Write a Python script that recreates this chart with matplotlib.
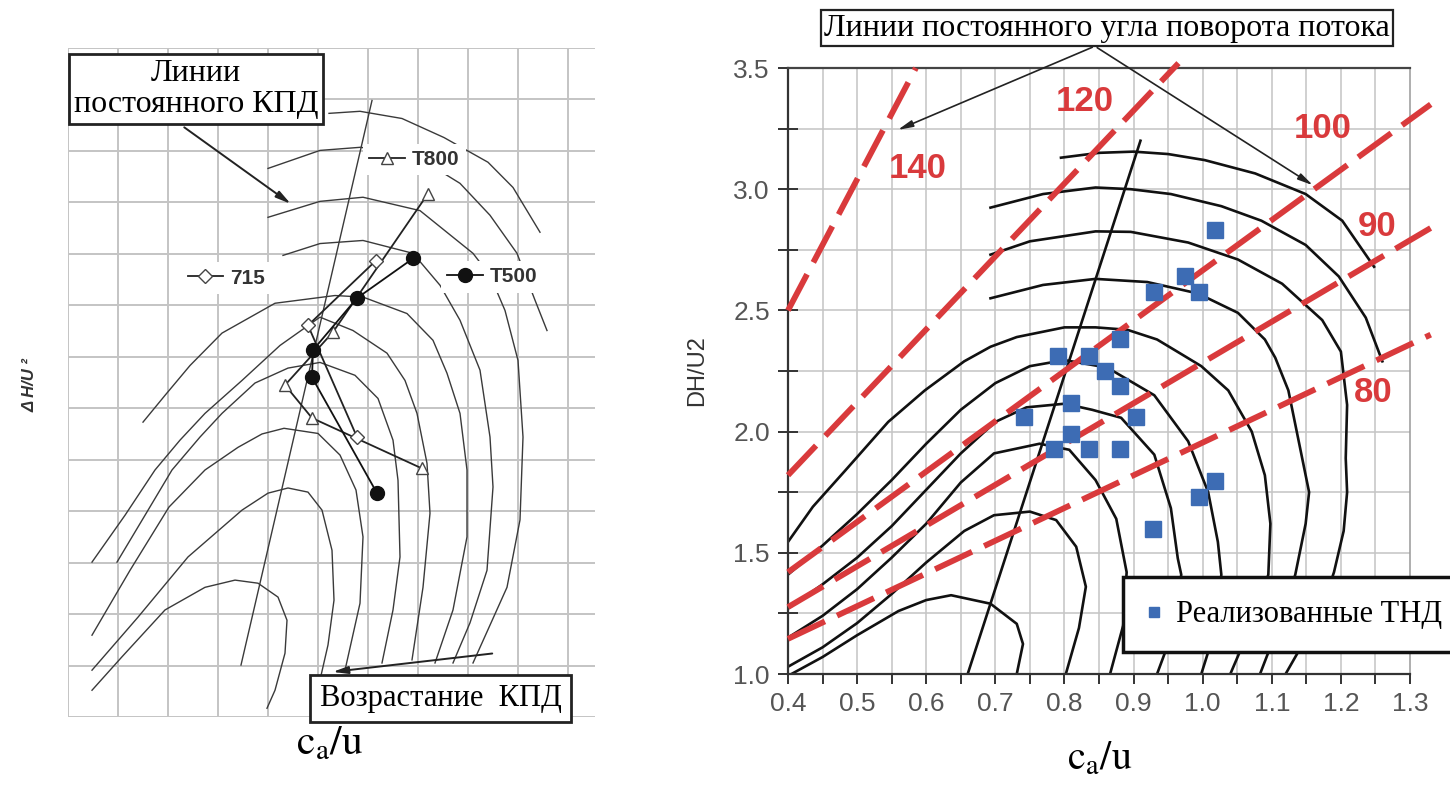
import matplotlib
matplotlib.use("Agg")
import matplotlib.pyplot as plt
from matplotlib.lines import Line2D
import numpy as np

plt.rcParams['mathtext.fontset'] = 'stix'
SERIF = 'Liberation Serif'
SANS = 'Liberation Sans'

# ===================== LEFT PANEL DATA (grid-cell units) =====================
left_curves = [
    # innermost -> outermost (x list, y list)
    ([0.48, 1.08, 1.94, 2.74, 3.34, 3.80, 4.20, 4.38, 4.34, 4.14, 3.98],
     [0.52, 1.17, 2.08, 2.52, 2.66, 2.60, 2.33, 1.88, 1.24, 0.52, 0.17]),
    ([0.48, 1.40, 2.40, 3.48, 4.00, 4.40, 4.80, 5.08, 5.28, 5.32, 5.20, 5.04],
     [0.91, 1.94, 3.11, 4.02, 4.35, 4.45, 4.37, 4.02, 3.24, 2.27, 1.40, 0.72]),
    ([0.48, 1.24, 2.02, 2.74, 3.40, 3.88, 4.32, 5.00, 5.44, 5.76, 5.90, 5.84, 5.54],
     [1.59, 2.85, 4.08, 4.80, 5.24, 5.50, 5.61, 5.51, 5.09, 4.41, 3.50, 2.21, 0.91]),
    ([0.98, 1.54, 2.08, 2.64, 3.08, 3.74, 4.40, 5.04, 5.74, 6.20, 6.50, 6.60, 6.64, 6.50, 6.28],
     [3.01, 3.92, 4.80, 5.44, 5.90, 6.49, 6.78, 6.89, 6.64, 6.19, 5.38, 4.60, 3.11, 2.08, 1.05]),
    ([0.48, 1.14, 1.74, 2.24, 2.74, 3.48, 4.24, 5.04, 5.70, 6.38, 6.74, 6.98, 7.18, 7.24, 7.10, 6.88],
     [3.01, 3.92, 4.80, 5.38, 5.90, 6.54, 7.22, 7.77, 7.51, 7.07, 6.54, 5.90, 4.93, 3.96, 2.52, 1.11]),
    ([1.50, 1.94, 2.44, 3.08, 4.14, 5.34, 5.90, 6.78, 7.30, 7.58, 7.84, 7.98, 7.98, 7.70, 7.34],
     [5.73, 6.25, 6.83, 7.46, 8.04, 8.19, 8.16, 7.84, 7.32, 6.68, 5.90, 4.80, 3.50, 2.08, 1.05]),
    ([4.30, 5.04, 5.90, 6.90, 7.44, 7.84, 8.24, 8.44, 8.50, 8.38, 8.04, 7.70],
     [8.97, 9.20, 9.26, 9.01, 8.39, 7.71, 6.74, 5.44, 4.47, 2.85, 1.83, 1.05]),
    ([4.00, 5.04, 5.90, 7.04, 8.10, 8.44, 8.74, 9.00, 9.10, 9.04, 8.78, 8.10],
     [9.71, 10.02, 10.10, 9.84, 9.01, 8.58, 7.90, 6.93, 5.44, 3.83, 2.52, 1.05]),
    ([4.00, 5.04, 5.84, 6.84, 7.84, 8.44, 8.98, 9.34, 9.58],
     [10.66, 11.01, 11.07, 10.97, 10.37, 9.75, 9.01, 8.10, 7.51]),
    ([5.22, 5.84, 6.68, 7.52, 8.40, 8.90, 9.44],
     [11.73, 11.77, 11.63, 11.26, 10.78, 10.29, 9.42]),
]
left_opt_x = [6.08, 3.46]
left_opt_y = [11.98, 1.01]

t500_x = [6.90, 5.78, 4.90, 4.88, 6.18]
t500_y = [8.91, 8.14, 7.13, 6.60, 4.35]
t800_x = [7.20, 5.30, 4.34, 4.88, 7.08]
t800_y = [10.17, 7.48, 6.45, 5.81, 4.83]
s715_x = [6.16, 4.80, 5.78]
s715_y = [8.87, 7.61, 5.44]

# ===================== RIGHT PANEL DATA =====================
angle_labels = ['140', '120', '100', '90', '80']
angle_x0 = [0.40, 0.40, 0.40, 0.40, 0.40]
angle_y0 = [2.50, 1.82, 1.42, 1.276, 1.145]
angle_x1 = [0.585, 0.965, 1.33, 1.33, 1.33]
angle_y1 = [3.50, 3.52, 3.35, 2.84, 2.40]
angle_lab_x = [0.588, 0.830, 1.173, 1.252, 1.247]
angle_lab_y = [3.087, 3.360, 3.250, 2.845, 2.160]

eff_curves = [
    ([0.795, 0.85, 0.90, 0.95, 1.003, 1.076, 1.149, 1.202, 1.248],
     [3.13, 3.15, 3.155, 3.145, 3.12, 3.065, 2.98, 2.87, 2.68]),
    ([0.693, 0.769, 0.845, 0.896, 0.954, 1.027, 1.085, 1.149, 1.197, 1.236, 1.26],
     [2.924, 2.98, 3.007, 3.00, 2.98, 2.93, 2.87, 2.77, 2.64, 2.47, 2.29]),
    ([0.693, 0.75, 0.845, 0.896, 0.979, 1.051, 1.115, 1.173, 1.20, 1.209, 1.207, 1.209, 1.204, 1.19, 1.17, 1.14, 1.12],
     [2.73, 2.785, 2.826, 2.824, 2.78, 2.71, 2.61, 2.46, 2.33, 2.11, 1.89, 1.75, 1.59, 1.42, 1.25, 1.10, 1.00]),
    ([0.693, 0.769, 0.845, 0.92, 0.993, 1.051, 1.09, 1.105, 1.124, 1.139, 1.154, 1.149, 1.134, 1.11, 1.083],
     [2.55, 2.605, 2.63, 2.617, 2.57, 2.49, 2.38, 2.305, 2.17, 1.96, 1.75, 1.62, 1.41, 1.20, 1.00]),
    ([0.40, 0.436, 0.483, 0.545, 0.598, 0.655, 0.693, 0.731, 0.80, 0.845, 0.891, 0.934, 0.969, 0.998, 1.037, 1.071, 1.09, 1.098, 1.095, 1.07, 1.04],
     [1.545, 1.69, 1.84, 2.04, 2.17, 2.29, 2.35, 2.39, 2.43, 2.43, 2.42, 2.38, 2.32, 2.27, 2.17, 2.00, 1.82, 1.62, 1.41, 1.20, 1.00]),
    ([0.40, 0.45, 0.50, 0.55, 0.60, 0.65, 0.70, 0.75, 0.80, 0.862, 0.93, 0.979, 1.008, 1.022, 1.027, 1.02, 0.998],
     [1.41, 1.53, 1.66, 1.80, 1.95, 2.09, 2.20, 2.27, 2.295, 2.264, 2.15, 1.96, 1.75, 1.545, 1.41, 1.20, 1.00]),
    ([0.40, 0.45, 0.50, 0.55, 0.60, 0.65, 0.70, 0.745, 0.80, 0.84, 0.882, 0.93, 0.954, 0.964, 0.969, 0.96, 0.934],
     [1.27, 1.37, 1.48, 1.61, 1.76, 1.91, 2.04, 2.10, 2.115, 2.09, 2.057, 1.905, 1.684, 1.477, 1.41, 1.20, 1.00]),
    ([0.40, 0.45, 0.50, 0.55, 0.60, 0.65, 0.698, 0.764, 0.807, 0.845, 0.875, 0.89, 0.885, 0.866],
     [1.15, 1.24, 1.35, 1.48, 1.62, 1.79, 1.91, 1.95, 1.925, 1.80, 1.64, 1.42, 1.20, 1.00]),
    ([0.40, 0.45, 0.50, 0.55, 0.60, 0.655, 0.698, 0.75, 0.788, 0.817, 0.831, 0.821, 0.802],
     [1.03, 1.11, 1.21, 1.33, 1.46, 1.59, 1.655, 1.67, 1.635, 1.525, 1.36, 1.19, 1.00]),
    ([0.405, 0.45, 0.50, 0.56, 0.60, 0.636, 0.693, 0.731, 0.74, 0.731],
     [1.00, 1.07, 1.16, 1.26, 1.305, 1.325, 1.29, 1.207, 1.124, 1.00]),
]
opt_line_x = [0.66, 0.91]
opt_line_y = [1.00, 3.20]

thd_x = [1.018, 0.975, 0.930, 0.995, 0.880, 0.790, 0.835, 0.858, 0.880, 0.742,
         0.810, 0.903, 0.810, 0.785, 0.835, 0.880, 0.995, 1.018, 0.928]
thd_y = [2.83, 2.64, 2.575, 2.575, 2.38, 2.31, 2.31, 2.25, 2.19, 2.06,
         2.12, 2.06, 1.99, 1.93, 1.93, 1.93, 1.73, 1.795, 1.60]

x_major = [0.4, 0.5, 0.6, 0.7, 0.8, 0.9, 1.0, 1.1, 1.2, 1.3]
x_labels = ['0.4', '0.5', '0.6', '0.7', '0.8', '0.9', '1.0', '1.1', '1.2', '1.3']
y_major = [1.0, 1.5, 2.0, 2.5, 3.0, 3.5]
y_labels = ['1.0', '1.5', '2.0', '2.5', '3.0', '3.5']

RED = '#d93a3c'
BLUE = '#3d6cb4'
GRID = '#c4c4c4'

fig = plt.figure(figsize=(14.5, 7.85), dpi=100)
fig.patch.set_facecolor('white')

# ===================== LEFT PANEL =====================
axL = fig.add_axes([68/1450, 68/785, 527/1450, 669/785])
axL.set_xlim(0, 10.54)
axL.set_ylim(0, 13)
for s in axL.spines.values():
    s.set_visible(False)
axL.set_xticks([]); axL.set_yticks([])
for gx in range(0, 11):
    axL.axvline(gx, color=GRID, lw=1.4, zorder=0)
for gy in range(0, 14):
    axL.axhline(gy, color=GRID, lw=1.4, zorder=0)

for cx, cy in left_curves:
    axL.plot(cx, cy, color='#3a3a3a', lw=1.0, zorder=2)
axL.plot(left_opt_x, left_opt_y, color='#3a3a3a', lw=1.0, zorder=2)

axL.plot(t800_x, t800_y, color='#222', lw=1.3, marker='^', ms=9, mfc='white',
         mec='#444', mew=1.0, zorder=4)
axL.plot(s715_x, s715_y, color='#222', lw=1.3, marker='D', ms=7, mfc='white',
         mec='#444', mew=1.0, zorder=4)
axL.plot(t500_x, t500_y, color='#111', lw=1.3, marker='o', ms=10, mfc='#111',
         mec='#111', zorder=5)

def mini_legend(ax, handle, label, anchor):
    lg = ax.legend([handle], [label], loc='center left', bbox_to_anchor=anchor,
                   frameon=True, fancybox=False, edgecolor='none', facecolor='white',
                   framealpha=1, borderpad=0.3, borderaxespad=0, handlelength=1.7,
                   handletextpad=0.35,
                   prop={'family': SANS, 'weight': 'bold', 'size': 15})
    lg.set_zorder(6)
    for t in lg.get_texts():
        t.set_color('#333')
    ax.add_artist(lg)

mini_legend(axL, Line2D([], [], color='#222', lw=1.3, marker='^', ms=9, mfc='white', mec='#444'),
            'T800', (0.56, 0.833))
mini_legend(axL, Line2D([], [], color='#222', lw=1.3, marker='D', ms=7, mfc='white', mec='#444'),
            '715', (0.215, 0.656))
mini_legend(axL, Line2D([], [], color='#111', lw=1.3, marker='o', ms=10, mfc='#111', mec='#111'),
            'T500', (0.708, 0.658))

axL.text(2.56, 12.21, 'Линии\nпостоянного КПД', ha='center', va='center',
         family=SERIF, fontsize=23, linespacing=1.1, zorder=7,
         bbox=dict(boxstyle='square,pad=0.15', fc='white', ec='#222', lw=2))
axL.annotate('', xy=(4.5, 9.94), xytext=(2.28, 11.49),
             arrowprops=dict(arrowstyle='-|>,head_length=0.9,head_width=0.22',
                             color='#222', lw=1.4), zorder=7)

axL.text(7.45, 0.36, 'Возрастание  КПД', ha='center', va='center',
         family=SERIF, fontsize=22, zorder=7,
         bbox=dict(boxstyle='square,pad=0.3', fc='white', ec='#222', lw=2))
axL.annotate('', xy=(5.24, 0.87), xytext=(8.54, 1.24),
             arrowprops=dict(arrowstyle='-|>,head_length=0.9,head_width=0.22',
                             color='#222', lw=1.4), zorder=7)

fig.text(330/1450, 1 - 742/785, r'$\mathrm{c_a/u}$', ha='center', va='center', fontsize=30)
fig.text(30/1450, 1 - 385/785, 'Δ H/U ²', rotation=90, ha='center', va='center',
         family=SANS, fontsize=12, fontweight='bold', fontstyle='italic', color='#333')

# ===================== RIGHT PANEL =====================
axR = fig.add_axes([788/1450, 111/785, 622/1450, 606/785])
axR.set_xlim(0.4, 1.3)
axR.set_ylim(1.0, 3.5)
for gx in np.arange(0.45, 1.30, 0.05):
    axR.axvline(gx, color=GRID, lw=1.1, zorder=0)
for gy in np.arange(1.25, 3.5, 0.25):
    axR.axhline(gy, color=GRID, lw=1.1, zorder=0)

axR.spines['left'].set_color('#333'); axR.spines['left'].set_linewidth(1.6)
axR.spines['bottom'].set_color('#333'); axR.spines['bottom'].set_linewidth(1.6)
axR.spines['top'].set_color('#444'); axR.spines['top'].set_linewidth(1.6)
axR.spines['right'].set_color('#999'); axR.spines['right'].set_linewidth(1.1)

axR.set_xticks(x_major)
axR.set_xticklabels(x_labels)
axR.set_xticks(np.arange(0.45, 1.3, 0.1), minor=True)
axR.set_yticks(y_major)
axR.set_yticklabels(y_labels)
axR.set_yticks(np.arange(1.25, 3.5, 0.5), minor=True)
axR.tick_params(axis='x', which='both', direction='out', length=7, width=1.4, color='#333',
                labelsize=19, labelcolor='#555', pad=6)
axR.tick_params(axis='y', which='both', direction='inout', length=14, width=1.4, color='#333',
                labelsize=19, labelcolor='#555', pad=6)
for t in axR.get_xticklabels() + axR.get_yticklabels():
    t.set_family(SANS)

for cx, cy in eff_curves:
    axR.plot(cx, cy, color='#111', lw=1.9, zorder=2)
axR.plot(opt_line_x, opt_line_y, color='#111', lw=1.9, zorder=2)

for lab, x0, y0, x1, y1, lx, ly in zip(angle_labels, angle_x0, angle_y0, angle_x1, angle_y1,
                                       angle_lab_x, angle_lab_y):
    axR.plot([x0, x1], [y0, y1], color=RED, lw=4.2, dashes=(7, 2.3), clip_on=False, zorder=3)
    axR.text(lx, ly, lab, color=RED, fontsize=25, fontweight='bold', family=SANS,
             ha='center', va='center', zorder=4)

axR.plot(thd_x, thd_y, ls='none', marker='s', ms=12, color=BLUE, zorder=5,
         label='Реализованные ТНД')

axR.text(0.862, 3.665, 'Линии постоянного угла поворота потока', ha='center', va='center',
         family=SERIF, fontsize=23, zorder=7,
         bbox=dict(boxstyle='square,pad=0.1', fc='white', ec='#222', lw=1.6))
for tx, ty in [(0.555, 3.24), (1.163, 3.01)]:
    axR.annotate('', xy=(tx, ty), xytext=(0.844, 3.59),
                 arrowprops=dict(arrowstyle='-|>,head_length=0.9,head_width=0.2',
                                 color='#222', lw=1.2), zorder=7, annotation_clip=False)

leg = axR.legend(loc='lower left', bbox_to_anchor=(0.5386, 0.036), frameon=True,
                 fancybox=False, edgecolor='#111', facecolor='white', framealpha=1,
                 prop={'family': SERIF, 'size': 22}, markerscale=0.6,
                 handlelength=0.5, handletextpad=0.5, borderpad=0.75, borderaxespad=0)
leg.get_frame().set_linewidth(2.5)
leg.set_zorder(8)

axR.set_ylabel('DH/U2', family=SANS, fontsize=17, color='#333', labelpad=18)
fig.text(1100/1450, 1 - 758/785, r'$\mathrm{c_a/u}$', ha='center', va='center', fontsize=29)

fig.savefig('out.png', dpi=100, facecolor='white')
